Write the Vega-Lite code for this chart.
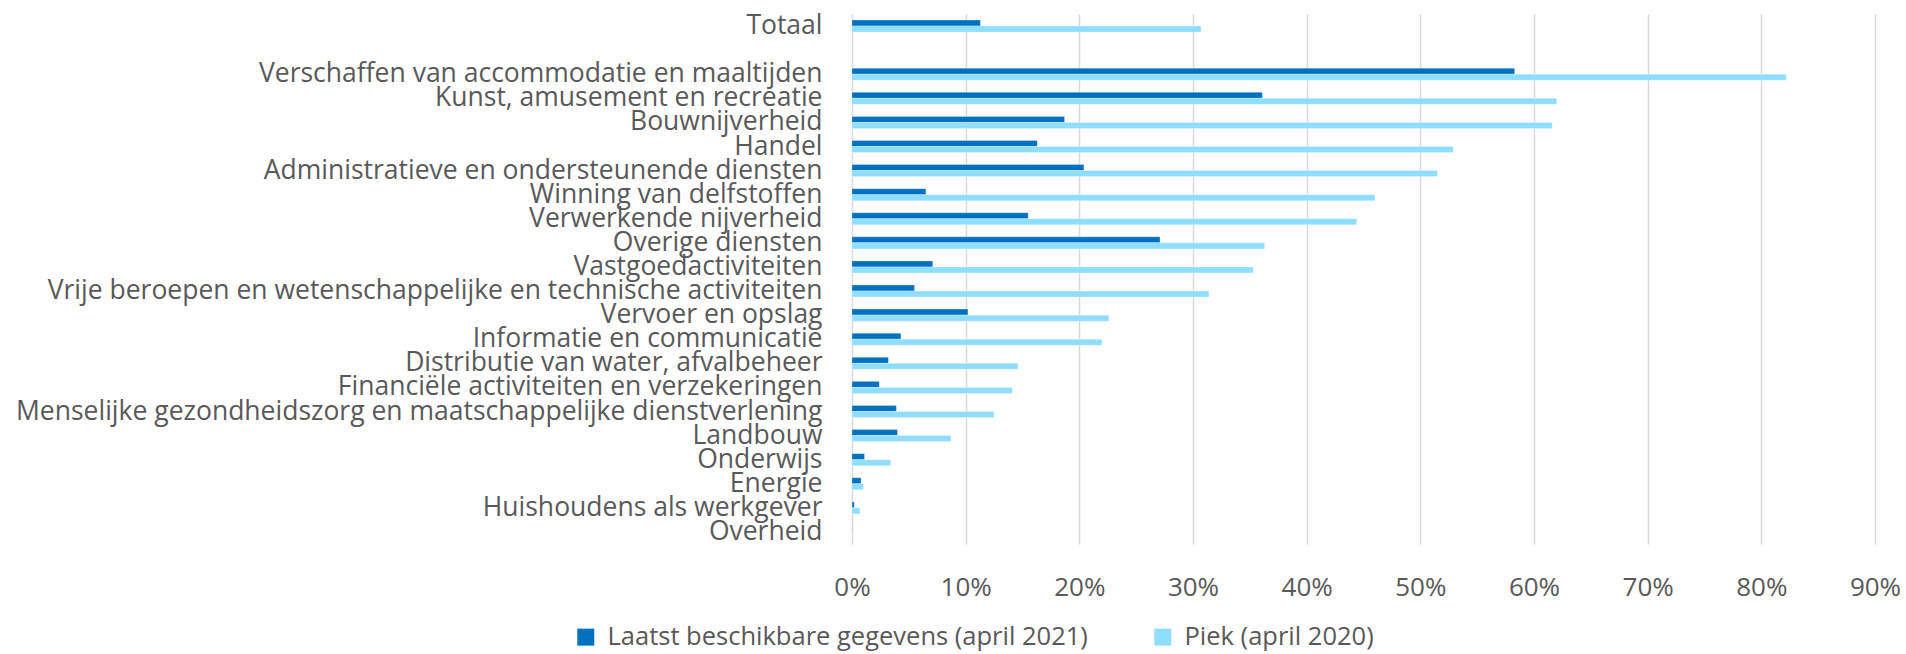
{
  "$schema": "https://vega.github.io/schema/vega-lite/v6.json",
  "autosize": {"type": "none"},
  "width": 1023,
  "height": 530,
  "padding": {"left": 852, "top": 14, "right": 31, "bottom": 110},
  "background": "white",
  "config": {
    "view": {"stroke": null},
    "font": "Open Sans",
    "axis": {"labelFont": "Open Sans", "labelColor": "#595959"}
  },
  "data": {
    "values": [
      {"sector": "Totaal", "series": "Laatst beschikbare gegevens (april 2021)", "value": 0.113},
      {"sector": "Totaal", "series": "Piek (april 2020)", "value": 0.307},
      {"sector": "Verschaffen van accommodatie en maaltijden", "series": "Laatst beschikbare gegevens (april 2021)", "value": 0.583},
      {"sector": "Verschaffen van accommodatie en maaltijden", "series": "Piek (april 2020)", "value": 0.822},
      {"sector": "Kunst, amusement en recreatie", "series": "Laatst beschikbare gegevens (april 2021)", "value": 0.361},
      {"sector": "Kunst, amusement en recreatie", "series": "Piek (april 2020)", "value": 0.620},
      {"sector": "Bouwnijverheid", "series": "Laatst beschikbare gegevens (april 2021)", "value": 0.187},
      {"sector": "Bouwnijverheid", "series": "Piek (april 2020)", "value": 0.616},
      {"sector": "Handel", "series": "Laatst beschikbare gegevens (april 2021)", "value": 0.163},
      {"sector": "Handel", "series": "Piek (april 2020)", "value": 0.529},
      {"sector": "Administratieve en ondersteunende diensten", "series": "Laatst beschikbare gegevens (april 2021)", "value": 0.204},
      {"sector": "Administratieve en ondersteunende diensten", "series": "Piek (april 2020)", "value": 0.515},
      {"sector": "Winning van delfstoffen", "series": "Laatst beschikbare gegevens (april 2021)", "value": 0.065},
      {"sector": "Winning van delfstoffen", "series": "Piek (april 2020)", "value": 0.460},
      {"sector": "Verwerkende nijverheid", "series": "Laatst beschikbare gegevens (april 2021)", "value": 0.155},
      {"sector": "Verwerkende nijverheid", "series": "Piek (april 2020)", "value": 0.444},
      {"sector": "Overige diensten", "series": "Laatst beschikbare gegevens (april 2021)", "value": 0.271},
      {"sector": "Overige diensten", "series": "Piek (april 2020)", "value": 0.363},
      {"sector": "Vastgoedactiviteiten", "series": "Laatst beschikbare gegevens (april 2021)", "value": 0.071},
      {"sector": "Vastgoedactiviteiten", "series": "Piek (april 2020)", "value": 0.353},
      {"sector": "Vrije beroepen en wetenschappelijke en technische activiteiten", "series": "Laatst beschikbare gegevens (april 2021)", "value": 0.055},
      {"sector": "Vrije beroepen en wetenschappelijke en technische activiteiten", "series": "Piek (april 2020)", "value": 0.314},
      {"sector": "Vervoer en opslag", "series": "Laatst beschikbare gegevens (april 2021)", "value": 0.102},
      {"sector": "Vervoer en opslag", "series": "Piek (april 2020)", "value": 0.226},
      {"sector": "Informatie en communicatie", "series": "Laatst beschikbare gegevens (april 2021)", "value": 0.043},
      {"sector": "Informatie en communicatie", "series": "Piek (april 2020)", "value": 0.220},
      {"sector": "Distributie van water, afvalbeheer", "series": "Laatst beschikbare gegevens (april 2021)", "value": 0.032},
      {"sector": "Distributie van water, afvalbeheer", "series": "Piek (april 2020)", "value": 0.146},
      {"sector": "Financiële activiteiten en verzekeringen", "series": "Laatst beschikbare gegevens (april 2021)", "value": 0.024},
      {"sector": "Financiële activiteiten en verzekeringen", "series": "Piek (april 2020)", "value": 0.141},
      {"sector": "Menselijke gezondheidszorg en maatschappelijke dienstverlening", "series": "Laatst beschikbare gegevens (april 2021)", "value": 0.039},
      {"sector": "Menselijke gezondheidszorg en maatschappelijke dienstverlening", "series": "Piek (april 2020)", "value": 0.125},
      {"sector": "Landbouw", "series": "Laatst beschikbare gegevens (april 2021)", "value": 0.040},
      {"sector": "Landbouw", "series": "Piek (april 2020)", "value": 0.087},
      {"sector": "Onderwijs", "series": "Laatst beschikbare gegevens (april 2021)", "value": 0.011},
      {"sector": "Onderwijs", "series": "Piek (april 2020)", "value": 0.034},
      {"sector": "Energie", "series": "Laatst beschikbare gegevens (april 2021)", "value": 0.008},
      {"sector": "Energie", "series": "Piek (april 2020)", "value": 0.010},
      {"sector": "Huishoudens als werkgever", "series": "Laatst beschikbare gegevens (april 2021)", "value": 0.002},
      {"sector": "Huishoudens als werkgever", "series": "Piek (april 2020)", "value": 0.007},
      {"sector": "Overheid", "series": "Laatst beschikbare gegevens (april 2021)", "value": 0.0002},
      {"sector": "Overheid", "series": "Piek (april 2020)", "value": 0.0005}
    ]
  },
  "mark": {"type": "bar", "stroke": "white", "strokeWidth": 0.5, "strokeOpacity": 0.6},
  "encoding": {
    "y": {
      "field": "sector",
      "type": "nominal",
      "title": null,
      "scale": {
        "domain": ["Totaal", " ", "Verschaffen van accommodatie en maaltijden", "Kunst, amusement en recreatie", "Bouwnijverheid", "Handel", "Administratieve en ondersteunende diensten", "Winning van delfstoffen", "Verwerkende nijverheid", "Overige diensten", "Vastgoedactiviteiten", "Vrije beroepen en wetenschappelijke en technische activiteiten", "Vervoer en opslag", "Informatie en communicatie", "Distributie van water, afvalbeheer", "Financiële activiteiten en verzekeringen", "Menselijke gezondheidszorg en maatschappelijke dienstverlening", "Landbouw", "Onderwijs", "Energie", "Huishoudens als werkgever", "Overheid"],
        "paddingInner": 0.5,
        "paddingOuter": 0.25
      },
      "axis": {
        "domain": false,
        "ticks": false,
        "grid": false,
        "labelPadding": 30,
        "labelFontSize": 26.5,
        "labelLimit": 0,
        "labelColor": "#595959"
      }
    },
    "yOffset": {
      "field": "series",
      "type": "nominal",
      "scale": {"domain": ["Laatst beschikbare gegevens (april 2021)", "Piek (april 2020)"], "paddingInner": 0, "paddingOuter": 0}
    },
    "x": {
      "field": "value",
      "type": "quantitative",
      "title": null,
      "scale": {"domain": [0, 0.9], "nice": false},
      "axis": {
        "values": [0, 0.1, 0.2, 0.3, 0.4, 0.5, 0.6, 0.7, 0.8, 0.9],
        "format": ".0%",
        "domain": false,
        "ticks": false,
        "grid": true,
        "gridColor": "#d9d9d9",
        "gridWidth": 1.5,
        "labelFontSize": 26,
        "labelPadding": 30,
        "labelColor": "#595959",
        "labelFlush": false
      }
    },
    "color": {
      "field": "series",
      "type": "nominal",
      "title": null,
      "scale": {"domain": ["Laatst beschikbare gegevens (april 2021)", "Piek (april 2020)"], "range": ["#0070C0", "#8FDDFF"]},
      "legend": {
        "orient": "none",
        "direction": "horizontal",
        "legendX": -279,
        "legendY": 610,
        "symbolType": "square",
        "symbolSize": 289,
        "symbolStrokeWidth": 0,
        "labelFontSize": 25.5,
        "labelColor": "#595959",
        "labelOffset": 9,
        "labelLimit": 0,
        "columnPadding": 62
      }
    }
  }
}
